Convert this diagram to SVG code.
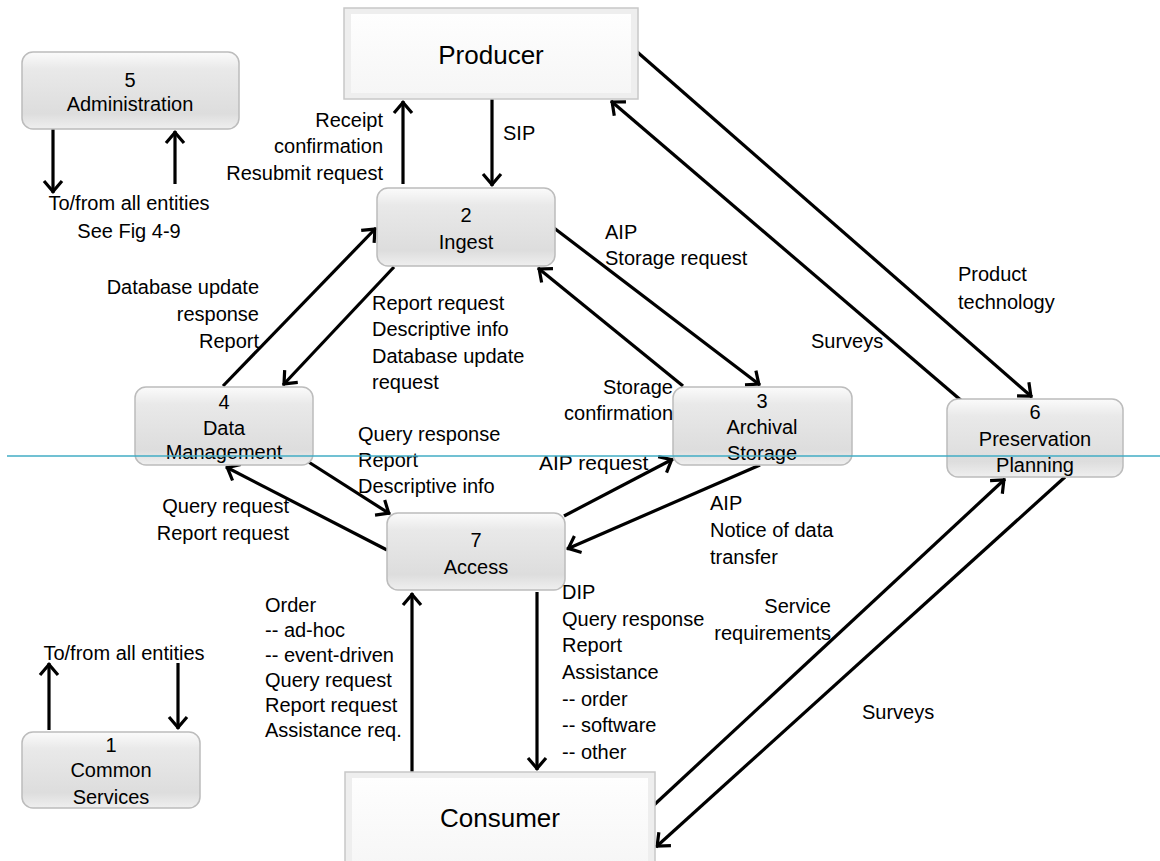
<svg xmlns="http://www.w3.org/2000/svg" width="1160" height="861" viewBox="0 0 1160 861">
<defs>
<linearGradient id="g" x1="0" y1="0" x2="0" y2="1">
<stop offset="0" stop-color="#fbfbfb"/>
<stop offset="0.22" stop-color="#e9e9e9"/>
<stop offset="0.8" stop-color="#dddddd"/>
<stop offset="1" stop-color="#efefef"/>
</linearGradient>
<linearGradient id="bv" x1="0" y1="0" x2="0" y2="1">
<stop offset="0" stop-color="#fefefe"/>
<stop offset="1" stop-color="#f6f6f6"/>
</linearGradient>
<marker id="ah" viewBox="0 0 19 22" refX="16" refY="11" markerWidth="19" markerHeight="22" markerUnits="userSpaceOnUse" orient="auto">
<path d="M4,2 L14.5,11 L4,20" fill="none" stroke="#000" stroke-width="3.2"/>
</marker>
</defs>
<style>
.t{font-family:"Liberation Sans",Arial,sans-serif;font-size:20px;fill:#000}
.c{text-anchor:middle}
.r{text-anchor:end}
.big{font-size:26px}
.box{fill:url(#g);stroke:#bcbcbc;stroke-width:1.5}
.bvo{fill:#eeeeee;stroke:#c8c8c8;stroke-width:1.5}
.bvi{fill:url(#bv)}
.arr{stroke:#000;stroke-width:3.2;fill:none;marker-end:url(#ah)}
</style>
<rect width="1160" height="861" fill="#fff"/>

<g id="connectors">
<line class="arr" x1="53" y1="129" x2="53" y2="193"/>
<line class="arr" x1="175" y1="184" x2="175" y2="131"/>
<line class="arr" x1="403" y1="184" x2="403" y2="101"/>
<line class="arr" x1="492" y1="99" x2="492" y2="186"/>
<line class="arr" x1="635" y1="50" x2="1032" y2="397"/>
<line class="arr" x1="963" y1="402" x2="611" y2="101"/>
<line class="arr" x1="223" y1="386" x2="376" y2="228"/>
<line class="arr" x1="394" y1="267" x2="283" y2="385"/>
<line class="arr" x1="554" y1="228" x2="760" y2="385"/>
<line class="arr" x1="683" y1="386" x2="538" y2="268"/>
<line class="arr" x1="307" y1="461" x2="390" y2="514"/>
<line class="arr" x1="387" y1="550" x2="226" y2="467"/>
<line class="arr" x1="564" y1="516" x2="673" y2="459"/>
<line class="arr" x1="760" y1="465" x2="567" y2="549"/>
<line class="arr" x1="412" y1="772" x2="412" y2="593"/>
<line class="arr" x1="537" y1="592" x2="537" y2="770"/>
<line class="arr" x1="654" y1="805" x2="1005" y2="479"/>
<line class="arr" x1="1065" y1="477" x2="656" y2="847"/>
<line class="arr" x1="49" y1="730" x2="49" y2="663"/>
<line class="arr" x1="178" y1="663" x2="178" y2="729"/>
</g>

<g id="producer">
<rect class="bvo" x="344" y="8" width="294" height="91"/>
<rect class="bvi" x="351" y="14" width="280" height="79"/>
<text class="t big c" x="491" y="64">Producer</text>
</g>
<g id="consumer">
<rect class="bvo" x="345" y="772" width="310" height="95"/>
<rect class="bvi" x="352" y="778" width="296" height="89"/>
<text class="t big c" x="500" y="827">Consumer</text>
</g>
<g id="administration">
<rect class="box" x="22" y="52" width="217" height="77" rx="11"/>
<text class="t c" x="130" y="87">5</text>
<text class="t c" x="130" y="111">Administration</text>
</g>
<g id="ingest">
<rect class="box" x="377" y="188" width="178" height="78" rx="11"/>
<text class="t c" x="466" y="222">2</text>
<text class="t c" x="466" y="249">Ingest</text>
</g>
<g id="data-management">
<rect class="box" x="135" y="387" width="178" height="78" rx="11"/>
<text class="t c" x="224" y="409">4</text>
<text class="t c" x="224" y="435">Data</text>
<text class="t c" x="224" y="459">Management</text>
</g>
<g id="archival-storage">
<rect class="box" x="673" y="387" width="179" height="78" rx="11"/>
<text class="t c" x="762" y="408">3</text>
<text class="t c" x="762" y="434">Archival</text>
<text class="t c" x="762" y="460">Storage</text>
</g>
<g id="preservation-planning">
<rect class="box" x="947" y="399" width="176" height="78" rx="11"/>
<text class="t c" x="1035" y="419">6</text>
<text class="t c" x="1035" y="446">Preservation</text>
<text class="t c" x="1035" y="472">Planning</text>
</g>
<g id="access">
<rect class="box" x="387" y="513" width="178" height="77" rx="11"/>
<text class="t c" x="476" y="547">7</text>
<text class="t c" x="476" y="574">Access</text>
</g>
<g id="common-services">
<rect class="box" x="22" y="732" width="178" height="76" rx="11"/>
<text class="t c" x="111" y="752">1</text>
<text class="t c" x="111" y="777">Common</text>
<text class="t c" x="111" y="804">Services</text>
</g>

<g id="labels">
<text class="t r" x="383" y="127">Receipt</text>
<text class="t r" x="383" y="153">confirmation</text>
<text class="t r" x="383" y="180">Resubmit request</text>
<text class="t c" x="129" y="210">To/from all entities</text>
<text class="t c" x="129" y="238">See Fig 4-9</text>
<text class="t" x="503" y="140">SIP</text>
<text class="t" x="605" y="239">AIP</text>
<text class="t" x="605" y="265">Storage request</text>
<text class="t" x="958" y="281">Product</text>
<text class="t" x="958" y="309">technology</text>
<text class="t" x="811" y="348">Surveys</text>
<text class="t r" x="259" y="294">Database update</text>
<text class="t r" x="259" y="321">response</text>
<text class="t r" x="259" y="348">Report</text>
<text class="t" x="372" y="310">Report request</text>
<text class="t" x="372" y="336">Descriptive info</text>
<text class="t" x="372" y="363">Database update</text>
<text class="t" x="372" y="389">request</text>
<text class="t r" x="673" y="394">Storage</text>
<text class="t r" x="673" y="420">confirmation</text>
<text class="t" x="358" y="441">Query response</text>
<text class="t" x="358" y="467">Report</text>
<text class="t" x="358" y="493">Descriptive info</text>
<text class="t" x="539" y="470" style="font-size:21px">AIP request</text>
<text class="t r" x="289" y="513">Query request</text>
<text class="t r" x="289" y="540">Report request</text>
<text class="t" x="710" y="510">AIP</text>
<text class="t" x="710" y="537">Notice of data</text>
<text class="t" x="710" y="564">transfer</text>
<text class="t r" x="831" y="613">Service</text>
<text class="t r" x="831" y="640">requirements</text>
<text class="t" x="862" y="719">Surveys</text>
<text class="t" x="265" y="612">Order</text>
<text class="t" x="265" y="637">-- ad-hoc</text>
<text class="t" x="265" y="662">-- event-driven</text>
<text class="t" x="265" y="687">Query request</text>
<text class="t" x="265" y="712">Report request</text>
<text class="t" x="265" y="737">Assistance req.</text>
<text class="t" x="562" y="599">DIP</text>
<text class="t" x="562" y="626">Query response</text>
<text class="t" x="562" y="652">Report</text>
<text class="t" x="562" y="679">Assistance</text>
<text class="t" x="562" y="706">-- order</text>
<text class="t" x="562" y="732">-- software</text>
<text class="t" x="562" y="759">-- other</text>
<text class="t c" x="124" y="660">To/from all entities</text>
</g>

<line id="guide" x1="7" y1="456" x2="1160" y2="456" stroke="#42adc4" stroke-width="1.5"/>
</svg>
